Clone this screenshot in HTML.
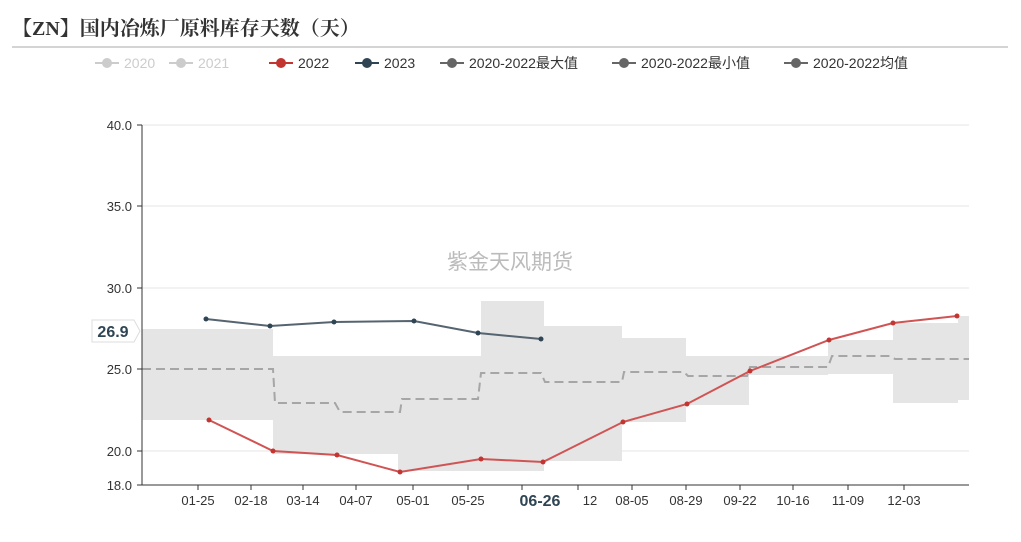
<!DOCTYPE html>
<html><head><meta charset="utf-8"><style>
body{margin:0;background:#fff;width:1021px;height:537px;overflow:hidden;font-family:"Liberation Sans","Noto Sans CJK SC",sans-serif}
</style></head><body>
<svg width="1021" height="537" xmlns="http://www.w3.org/2000/svg" font-family="Liberation Sans, Noto Sans CJK SC, sans-serif">
<text x="12" y="35" font-size="20" font-weight="bold" fill="#333" font-family="Liberation Serif, Noto Serif CJK SC, serif">【ZN】国内冶炼厂原料库存天数（天）</text>
<line x1="12" y1="47" x2="1008" y2="47" stroke="#aaa" stroke-width="1"/>
<g font-size="14" transform="translate(7,0)">
<line x1="88" y1="63" x2="112" y2="63" stroke="#ccc" stroke-width="2"/><circle cx="100" cy="63" r="5" fill="#ccc"/><text x="117" y="68" fill="#ccc">2020</text>
<line x1="162" y1="63" x2="186" y2="63" stroke="#ccc" stroke-width="2"/><circle cx="174" cy="63" r="5" fill="#ccc"/><text x="191" y="68" fill="#ccc">2021</text>
<line x1="262" y1="63" x2="286" y2="63" stroke="#c23531" stroke-width="2"/><circle cx="274" cy="63" r="5" fill="#c23531"/><text x="291" y="68" fill="#333">2022</text>
<line x1="348" y1="63" x2="372" y2="63" stroke="#2f4554" stroke-width="2"/><circle cx="360" cy="63" r="5" fill="#2f4554"/><text x="377" y="68" fill="#333">2023</text>
<line x1="433" y1="63" x2="457" y2="63" stroke="#666" stroke-width="2"/><circle cx="445" cy="63" r="5" fill="#666"/><text x="462" y="68" fill="#333">2020-2022最大值</text>
<line x1="605" y1="63" x2="629" y2="63" stroke="#666" stroke-width="2"/><circle cx="617" cy="63" r="5" fill="#666"/><text x="634" y="68" fill="#333">2020-2022最小值</text>
<line x1="777" y1="63" x2="801" y2="63" stroke="#666" stroke-width="2"/><circle cx="789" cy="63" r="5" fill="#666"/><text x="806" y="68" fill="#333">2020-2022均值</text>
</g>
<g stroke="#e6e6e6" stroke-width="1">
<line x1="142" y1="125" x2="969" y2="125"/><line x1="142" y1="206" x2="969" y2="206"/><line x1="142" y1="288" x2="969" y2="288"/><line x1="142" y1="369" x2="969" y2="369"/><line x1="142" y1="451" x2="969" y2="451"/>
</g>
<g fill="#e5e5e5">
<rect x="142" y="329" width="131" height="91"/>
<rect x="273" y="356" width="125" height="98"/>
<rect x="398" y="356" width="83" height="115"/>
<rect x="481" y="301" width="63" height="170"/>
<rect x="544" y="326" width="78" height="135"/>
<rect x="622" y="338" width="64" height="84"/>
<rect x="686" y="356" width="63" height="49"/>
<rect x="749" y="356" width="79" height="19"/>
<rect x="828" y="340" width="65" height="34"/>
<rect x="893" y="323" width="65" height="80"/>
<rect x="958" y="316" width="11" height="84"/>
</g>
<polyline fill="none" stroke="#a6a6a6" stroke-width="2" stroke-dasharray="9,5" points="142,369 273,369 275,403 335,403 340,412 400,412 402,399 478,399 481,373 541,373 545,382 622,382 624,372 684,372 688,376 747,376 750,367 828,367 832,356 890,356 895,359 969,359"/>
<line x1="142" y1="125" x2="142" y2="485" stroke="#333"/>
<line x1="142" y1="485" x2="969" y2="485" stroke="#333"/>
<g stroke="#333">
<line x1="137" y1="125" x2="142" y2="125"/><line x1="137" y1="206" x2="142" y2="206"/><line x1="137" y1="288" x2="142" y2="288"/><line x1="137" y1="369" x2="142" y2="369"/><line x1="137" y1="451" x2="142" y2="451"/><line x1="137" y1="485" x2="142" y2="485"/>
<line x1="198" y1="485" x2="198" y2="490"/><line x1="251" y1="485" x2="251" y2="490"/><line x1="303" y1="485" x2="303" y2="490"/><line x1="356" y1="485" x2="356" y2="490"/><line x1="413" y1="485" x2="413" y2="490"/><line x1="468" y1="485" x2="468" y2="490"/><line x1="522" y1="485" x2="522" y2="490"/><line x1="578" y1="485" x2="578" y2="490"/><line x1="632" y1="485" x2="632" y2="490"/><line x1="686" y1="485" x2="686" y2="490"/><line x1="740" y1="485" x2="740" y2="490"/><line x1="793" y1="485" x2="793" y2="490"/><line x1="848" y1="485" x2="848" y2="490"/><line x1="904" y1="485" x2="904" y2="490"/>
</g>
<g font-size="13" fill="#333" text-anchor="end">
<text x="132" y="130">40.0</text><text x="132" y="211">35.0</text><text x="132" y="293">30.0</text><text x="132" y="374">25.0</text><text x="132" y="456">20.0</text><text x="132" y="490">18.0</text>
</g>
<g font-size="13" fill="#333" text-anchor="middle">
<text x="198" y="505">01-25</text><text x="251" y="505">02-18</text><text x="303" y="505">03-14</text><text x="356" y="505">04-07</text><text x="413" y="505">05-01</text><text x="468" y="505">05-25</text><text x="590" y="505">12</text><text x="632" y="505">08-05</text><text x="686" y="505">08-29</text><text x="740" y="505">09-22</text><text x="793" y="505">10-16</text><text x="848" y="505">11-09</text><text x="904" y="505">12-03</text>
<text x="540" y="506" font-size="16" font-weight="bold" fill="#2f4554">06-26</text>
</g>
<text x="510" y="269" font-size="21" fill="#bbb" text-anchor="middle">紫金天风期货</text>
<polyline fill="none" stroke="#d05454" stroke-width="2" points="209,420 273,451 337,455 400,472 481,459 543,462 623,422 687,404 750,371 829,340 893,323 957,316"/>
<g fill="#c23531"><circle cx="209" cy="420" r="2.5"/><circle cx="273" cy="451" r="2.5"/><circle cx="337" cy="455" r="2.5"/><circle cx="400" cy="472" r="2.5"/><circle cx="481" cy="459" r="2.5"/><circle cx="543" cy="462" r="2.5"/><circle cx="623" cy="422" r="2.5"/><circle cx="687" cy="404" r="2.5"/><circle cx="750" cy="371" r="2.5"/><circle cx="829" cy="340" r="2.5"/><circle cx="893" cy="323" r="2.5"/><circle cx="957" cy="316" r="2.5"/></g>
<polyline fill="none" stroke="#556470" stroke-width="2" points="206,319 270,326 334,322 414,321 478,333 541,339"/>
<g fill="#2f4554"><circle cx="206" cy="319" r="2.5"/><circle cx="270" cy="326" r="2.5"/><circle cx="334" cy="322" r="2.5"/><circle cx="414" cy="321" r="2.5"/><circle cx="478" cy="333" r="2.5"/><circle cx="541" cy="339" r="2.5"/></g>
<path d="M92,320 H134 L140,331 L134,342 H92 Z" fill="#fff" stroke="#ddd"/>
<text x="113" y="337" font-size="16" font-weight="bold" fill="#2f4554" text-anchor="middle">26.9</text>
</svg>
</body></html>
